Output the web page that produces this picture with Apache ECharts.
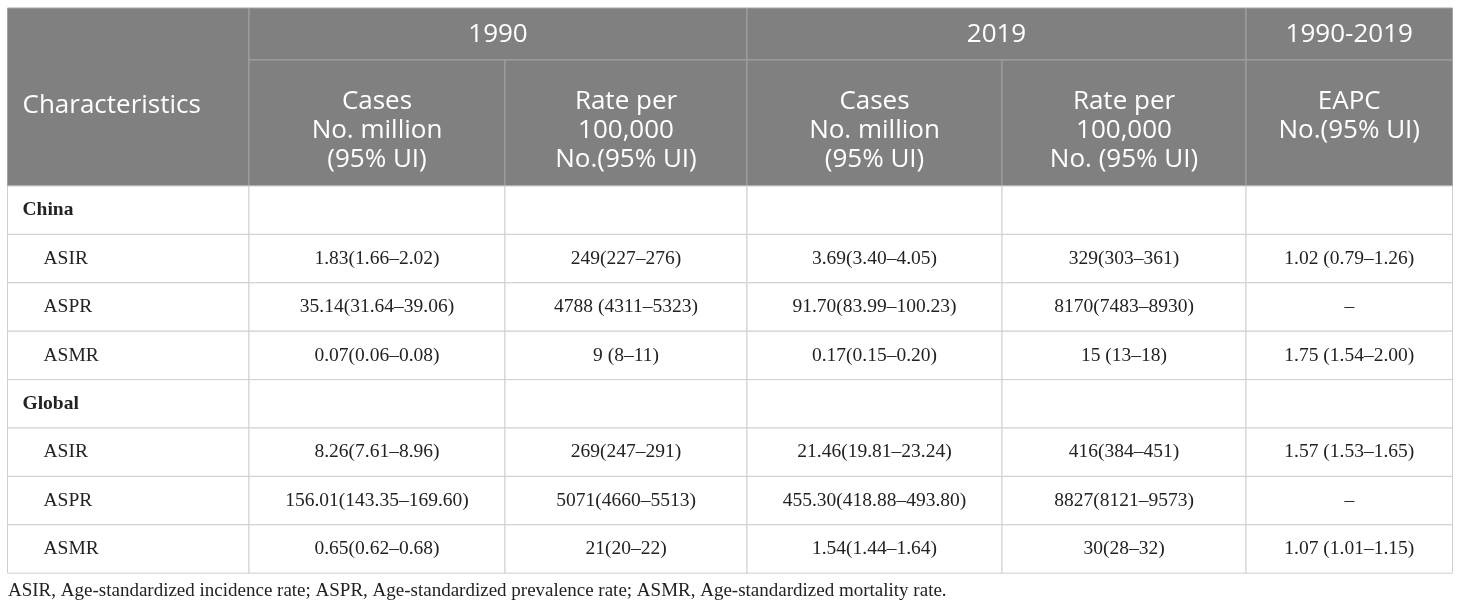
<!DOCTYPE html>
<html>
<head>
<meta charset="utf-8">
<script src="https://cdn.jsdelivr.net/npm/echarts@6/dist/echarts.min.js"></script>
<style>
  html, body { margin: 0; padding: 0; background: #fff; }
  #main { width: 1460px; height: 610px; }
</style>
</head>
<body>
<div id="main"></div>
<script>
// 表头
var characteristicsLabel = 'Characteristics';
var yearHeaders = ['1990', '2019', '1990-2019'];
var subHeaders = [
  'Cases\nNo. million\n(95% UI)',
  'Rate per\n100,000\nNo.(95% UI)',
  'Cases\nNo. million\n(95% UI)',
  'Rate per\n100,000\nNo. (95% UI)',
  'EAPC\nNo.(95% UI)'
];
var groups = ['China', 'Global'];
var measures = ['ASIR', 'ASPR', 'ASMR'];

// China
var china1990Cases = ['1.83(1.66–2.02)', '35.14(31.64–39.06)', '0.07(0.06–0.08)'];
var china1990Rate = ['249(227–276)', '4788 (4311–5323)', '9 (8–11)'];
var china2019Cases = ['3.69(3.40–4.05)', '91.70(83.99–100.23)', '0.17(0.15–0.20)'];
var china2019Rate = ['329(303–361)', '8170(7483–8930)', '15 (13–18)'];
var chinaEapc = ['1.02 (0.79–1.26)', '–', '1.75 (1.54–2.00)'];

// Global
var global1990Cases = ['8.26(7.61–8.96)', '156.01(143.35–169.60)', '0.65(0.62–0.68)'];
var global1990Rate = ['269(247–291)', '5071(4660–5513)', '21(20–22)'];
var global2019Cases = ['21.46(19.81–23.24)', '455.30(418.88–493.80)', '1.54(1.44–1.64)'];
var global2019Rate = ['416(384–451)', '8827(8121–9573)', '30(28–32)'];
var globalEapc = ['1.57 (1.53–1.65)', '–', '1.07 (1.01–1.15)'];

var footnote = 'ASIR, Age-standardized incidence rate; ASPR, Age-standardized prevalence rate; ASMR, Age-standardized mortality rate.';

// 布局（轴单位）
var colEdges = [0, 241.5, 497.5, 739.5, 994.5, 1238.5, 1445];
var headEdges = [0, 52, 178];
var bodyRowH = 48.4;
var tableH = 565;

var groupCols = [
  [china1990Cases, china1990Rate, china2019Cases, china2019Rate, chinaEapc],
  [global1990Cases, global1990Rate, global2019Cases, global2019Rate, globalEapc]
];

// 单元格列表
var cells = [];
cells.push({ x0: colEdges[0], x1: colEdges[1], y0: headEdges[0], y1: headEdges[2], text: characteristicsLabel, kind: 'headLeft' });
cells.push({ x0: colEdges[1], x1: colEdges[3], y0: headEdges[0], y1: headEdges[1], text: yearHeaders[0], kind: 'head' });
cells.push({ x0: colEdges[3], x1: colEdges[5], y0: headEdges[0], y1: headEdges[1], text: yearHeaders[1], kind: 'head' });
cells.push({ x0: colEdges[5], x1: colEdges[6], y0: headEdges[0], y1: headEdges[1], text: yearHeaders[2], kind: 'head' });
for (var c = 0; c < subHeaders.length; c++) {
  cells.push({ x0: colEdges[c + 1], x1: colEdges[c + 2], y0: headEdges[1], y1: headEdges[2], text: subHeaders[c], kind: 'sub' });
}
var row = 0;
for (var g = 0; g < groups.length; g++) {
  var y0 = headEdges[2] + row * bodyRowH;
  cells.push({ x0: colEdges[0], x1: colEdges[1], y0: y0, y1: y0 + bodyRowH, text: groups[g], kind: 'group' });
  for (var c = 0; c < 5; c++) {
    cells.push({ x0: colEdges[c + 1], x1: colEdges[c + 2], y0: y0, y1: y0 + bodyRowH, text: '', kind: 'body' });
  }
  row++;
  for (var m = 0; m < measures.length; m++) {
    y0 = headEdges[2] + row * bodyRowH;
    cells.push({ x0: colEdges[0], x1: colEdges[1], y0: y0, y1: y0 + bodyRowH, text: measures[m], kind: 'measure' });
    for (var c = 0; c < 5; c++) {
      cells.push({ x0: colEdges[c + 1], x1: colEdges[c + 2], y0: y0, y1: y0 + bodyRowH, text: groupCols[g][c][m], kind: 'body' });
    }
    row++;
  }
}

var headFont = '"Open Sans", "Noto Sans", sans-serif';
var bodyFont = '"Liberation Serif", "DejaVu Serif", serif';

function renderCell(params, api) {
  var cell = cells[params.dataIndex];
  var p0 = api.coord([api.value(0), api.value(1)]);
  var p1 = api.coord([api.value(2), api.value(3)]);
  var isHead = cell.kind === 'head' || cell.kind === 'sub' || cell.kind === 'headLeft';
  var rect = {
    type: 'rect',
    shape: { x: p0[0], y: p0[1], width: p1[0] - p0[0], height: p1[1] - p0[1] },
    style: { fill: isHead ? '#808080' : '#ffffff', stroke: isHead ? '#a3a3a3' : '#cfcfcf', lineWidth: 1 }
  };
  var tx, ty, align = 'center', vAlign = 'middle';
  var font, fill = isHead ? '#ffffff' : '#222222';
  if (cell.kind === 'headLeft') {
    tx = p0[0] + 15; ty = p0[1] + 98; align = 'left';
    font = '26px ' + headFont;
  } else if (cell.kind === 'head') {
    tx = (p0[0] + p1[0]) / 2; ty = (p0[1] + p1[1]) / 2 + 1;
    font = '26px ' + headFont;
  } else if (cell.kind === 'sub') {
    tx = (p0[0] + p1[0]) / 2; ty = p0[1] + 27; vAlign = 'top';
    font = '26px ' + headFont;
  } else if (cell.kind === 'group') {
    tx = p0[0] + 15; ty = (p0[1] + p1[1]) / 2; align = 'left';
    font = 'bold 19.5px ' + bodyFont;
  } else if (cell.kind === 'measure') {
    tx = p0[0] + 36; ty = (p0[1] + p1[1]) / 2; align = 'left';
    font = '19.5px ' + bodyFont;
  } else {
    tx = (p0[0] + p1[0]) / 2; ty = (p0[1] + p1[1]) / 2;
    font = '19.5px ' + bodyFont;
  }
  return {
    type: 'group',
    children: [rect, {
      type: 'text',
      style: {
        text: cell.text, x: tx, y: ty, align: align, verticalAlign: vAlign,
        font: font, fill: fill, lineHeight: 29
      }
    }]
  };
}

var myChart = echarts.init(document.getElementById('main'));
var option = {
  animation: false,
  title: {
    text: footnote,
    left: 3,
    bottom: 4,
    textStyle: { fontFamily: bodyFont, fontSize: 19, fontWeight: 'normal', color: '#222' }
  },
  grid: { left: 7.5, right: 7.5, top: 8, bottom: 37 },
  xAxis: { type: 'value', min: 0, max: colEdges[colEdges.length - 1], show: false },
  yAxis: { type: 'value', min: 0, max: tableH, inverse: true, show: false },
  series: [{
    type: 'custom',
    renderItem: renderCell,
    data: cells.map(function (c) { return [c.x0, c.y0, c.x1, c.y1]; })
  }]
};
myChart.setOption(option);
window.addEventListener('resize', function () { myChart.resize(); });
</script>
</body>
</html>
